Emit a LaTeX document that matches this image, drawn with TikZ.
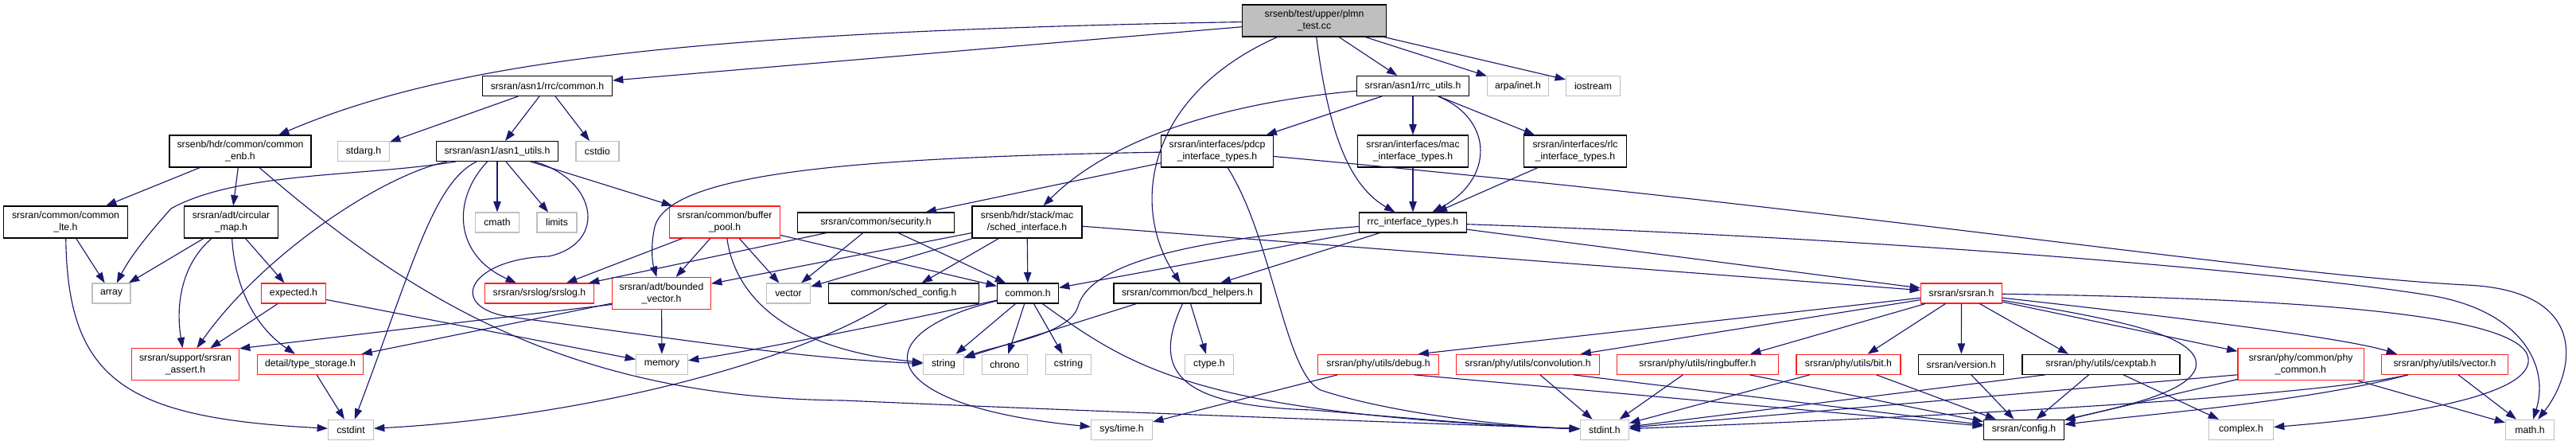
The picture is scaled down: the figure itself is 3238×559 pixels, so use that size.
\documentclass[tikz,border=0pt]{standalone}
\usepackage{fontspec}
\setmainfont{Liberation Sans}
\usetikzlibrary{arrows.meta}

\definecolor{edgeblue}{HTML}{191970}
\definecolor{sysgray}{HTML}{BFBFBF}
\definecolor{cutred}{HTML}{FF2020}

\begin{document}
\begin{tikzpicture}[x=0.75pt, y=-0.75pt,
    every node/.style={font=\fontsize{9.2}{11.25}\selectfont, align=center, inner sep=0pt,
        line width=0.8pt, fill=white, minimum height=25*0.75pt},
    file/.style={draw=black},
    sysfile/.style={draw=sysgray},
    cutfile/.style={draw=cutred},
    mainfile/.style={draw=black, fill=sysgray},
    tall/.style={minimum height=40*0.75pt},
    wd/.style={minimum width=#1*0.75pt},
    inc/.style={draw=edgeblue, line width=0.85pt, -{Triangle[length=10pt, width=7pt]}}]
    \useasboundingbox (0,0) rectangle (3238,559);

    % files, row by row
    \node[mainfile, tall, wd=181] (plmn) at (1652,26) {srsenb/test/upper/plmn\\\_test.cc};

    \node[file, wd=163] (rrcc) at (688,108) {srsran/asn1/rrc/common.h};
    \node[file, wd=141] (rrcu) at (1776,108) {srsran/asn1/rrc\_utils.h};
    \node[sysfile, wd=77] (arpa) at (1908,108) {arpa/inet.h};
    \node[sysfile, wd=68] (iostream) at (2002.5,108) {iostream};

    \node[file, tall, wd=178] (enb) at (302,190) {srsenb/hdr/common/common\\\_enb.h};
    \node[sysfile, wd=65] (stdarg) at (457,190) {stdarg.h};
    \node[file, wd=153] (asn) at (625,190) {srsran/asn1/asn1\_utils.h};
    \node[sysfile, wd=54] (cstdio) at (751,190) {cstdio};
    \node[file, tall, wd=141] (pdcp) at (1530,190) {srsran/interfaces/pdcp\\\_interface\_types.h};
    \node[file, tall, wd=139] (macif) at (1776,190) {srsran/interfaces/mac\\\_interface\_types.h};
    \node[file, tall, wd=129] (rlcif) at (1980,190) {srsran/interfaces/rlc\\\_interface\_types.h};

    \node[file, tall, wd=156] (lte) at (82.5,279) {srsran/common/common\\\_lte.h};
    \node[file, tall, wd=118] (cmap) at (290.5,279) {srsran/adt/circular\\\_map.h};
    \node[sysfile, wd=55] (cmath) at (625,279.5) {cmath};
    \node[sysfile, wd=50] (limits) at (700,279.5) {limits};
    \node[cutfile, tall, wd=139] (bpool) at (911,279) {srsran/common/buffer\\\_pool.h};
    \node[file, wd=197] (secu) at (1101,279.5) {srsran/common/security.h};
    \node[file, tall, wd=138] (sched) at (1291,279) {srsenb/hdr/stack/mac\\/sched\_interface.h};
    \node[file, wd=135] (rrcif) at (1776,279.5) {rrc\_interface\_types.h};

    \node[sysfile, wd=48] (array) at (140,368.5) {array};
    \node[cutfile, wd=81] (expected) at (369,368.5) {expected.h};
    \node[cutfile, wd=137] (srslog) at (678,368.5) {srsran/srslog/srslog.h};
    \node[cutfile, tall, wd=124] (bvec) at (831.5,368.5) {srsran/adt/bounded\\\_vector.h};
    \node[sysfile, wd=55] (vector) at (991,368.5) {vector};
    \node[file, wd=189] (schedcfg) at (1136,368.5) {common/sched\_config.h};
    \node[file, wd=77] (commonh) at (1292,368.5) {common.h};
    \node[file, wd=185] (bcd) at (1492.5,368.5) {srsran/common/bcd\_helpers.h};
    \node[cutfile, wd=102] (srsran) at (2465.5,368.5) {srsran/srsran.h};

    \node[cutfile, tall, wd=135] (assert) at (233,457.8) {srsran/support/srsran\\\_assert.h};
    \node[cutfile, wd=133] (tstore) at (390,457.8) {detail/type\_storage.h};
    \node[sysfile, wd=65] (memory) at (832,457.8) {memory};
    \node[sysfile, wd=51] (string) at (1186,457.8) {string};
    \node[sysfile, wd=57] (chrono) at (1263,457.8) {chrono};
    \node[sysfile, wd=57] (cstring) at (1343,457.8) {cstring};
    \node[sysfile, wd=61] (ctype) at (1520,457.8) {ctype.h};
    \node[cutfile, wd=152] (debug) at (1732.5,457.8) {srsran/phy/utils/debug.h};
    \node[cutfile, wd=180] (conv) at (1920.5,457.8) {srsran/phy/utils/convolution.h};
    \node[cutfile, wd=203] (ring) at (2134,457.8) {srsran/phy/utils/ringbuffer.h};
    \node[cutfile, wd=131] (bit) at (2323.5,457.8) {srsran/phy/utils/bit.h};
    \node[file, wd=107] (version) at (2465.3,457.8) {srsran/version.h};
    \node[file, wd=198] (cexp) at (2641,457.8) {srsran/phy/utils/cexptab.h};
    \node[cutfile, tall, wd=158] (phycom) at (2892,457.8) {srsran/phy/common/phy\\\_common.h};
    \node[cutfile, wd=159] (vecth) at (3073,457.8) {srsran/phy/utils/vector.h};

    \node[sysfile, wd=57] (cstdint) at (441,539.7) {cstdint};
    \node[sysfile, wd=77] (systime) at (1410,539.8) {sys/time.h};
    \node[sysfile, wd=61] (stdint) at (2017,539.8) {stdint.h};
    \node[file, wd=101] (config) at (2544,539.8) {srsran/config.h};
    \node[sysfile, wd=81] (complex) at (2817,539.8) {complex.h};
    \node[sysfile, wd=61] (math) at (3180,539.8) {math.h};

    % includes of the test file
    \draw[inc] (plmn) .. controls (850,40) and (560,80) .. (enb);
    \draw[inc] (plmn) -- (rrcc);
    \draw[inc] (plmn) -- (rrcu);
    \draw[inc] (plmn) -- (arpa);
    \draw[inc] (plmn) -- (iostream);
    \draw[inc] (plmn) .. controls (1668,150) and (1690,230) .. (rrcif);
    \draw[inc] (plmn) .. controls (1440,120) and (1420,260) .. (bcd);

    \draw[inc] (rrcc) -- (stdarg);
    \draw[inc] (rrcc) -- (asn);
    \draw[inc] (rrcc) -- (cstdio);

    \draw[inc] (enb) -- (lte);
    \draw[inc] (enb) -- (cmap);
    \draw[inc] (enb) .. controls (500,360) and (700,500) .. (1060,503) .. controls (1400,518) and (1800,532) .. (stdint);

    \draw[inc] (lte) -- (array);
    \draw[inc] (lte) .. controls (85,480) and (160,525) .. (cstdint);

    \draw[inc] (cmap) -- (array);
    \draw[inc] (cmap) .. controls (230,330) and (220,380) .. (assert);
    \draw[inc] (cmap) .. controls (295,360) and (320,410) .. (tstore);
    \draw[inc] (cmap) -- (expected);
    \draw[inc] (expected) -- (assert);
    \draw[inc] (expected) -- (memory);
    \draw[inc] (tstore) -- (cstdint);

    \draw[inc] (asn) -- (cmath);
    \draw[inc] (asn) -- (limits);
    \draw[inc] (asn) -- (bpool);
    \draw[inc] (asn) .. controls (568,250) and (570,320) .. (srslog);
    \draw[inc] (asn) .. controls (750,225) and (765,305) .. (690,322) .. controls (590,325) and (560,385) .. (640,398) .. controls (850,425) and (1000,450) .. (string);
    \draw[inc] ([shift={(25,0)}]asn.south west) .. controls (460,222) and (300,215) .. (215,262) .. controls (190,290) and (165,320) .. (array);
    \draw[inc] (asn) .. controls (480,220) and (330,320) .. (assert);
    \draw[inc] (asn) .. controls (545,230) and (520,330) .. (cstdint);

    \draw[inc] (bpool) -- (srslog);
    \draw[inc] (bpool) -- (bvec);
    \draw[inc] (bpool) -- (vector);
    \draw[inc] (bpool) -- (commonh);
    \draw[inc] (bpool) .. controls (925,380) and (1000,440) .. (string);

    \draw[inc] (bvec) -- (memory);
    \draw[inc] ([shift={(0,14)}]bvec.west) -- ([shift={(0,-20)}]assert.east);
    \draw[inc] (bvec) -- (tstore);

    \draw[inc] (rrcu) -- (pdcp);
    \draw[inc] (rrcu) -- (macif);
    \draw[inc] (rrcu) -- (rlcif);
    \draw[inc] (rrcu) .. controls (1878,150) and (1878,225) .. (rrcif);
    \draw[inc] (rrcu) .. controls (1550,128) and (1400,170) .. (sched);
    \draw[inc] (macif) -- (rrcif);
    \draw[inc] (rlcif) -- (rrcif);

    \draw[inc] (pdcp) -- (secu);
    \draw[inc] (pdcp) .. controls (1050,198) and (830,220) .. (822,290) .. controls (818,310) and (820,330) .. (bvec);
    \draw[inc] (pdcp) .. controls (1600,300) and (1615,470) .. (1660,490) .. controls (1750,520) and (1900,536) .. (stdint);
    \draw[inc] (pdcp) .. controls (2350,265) and (2850,345) .. (3100,358) .. controls (3260,365) and (3235,470) .. (math);

    \draw[inc] (secu) -- (srslog);
    \draw[inc] (secu) -- (vector);
    \draw[inc] (secu) -- (commonh);

    \draw[inc] (sched) -- (commonh);
    \draw[inc] (sched) -- (schedcfg);
    \draw[inc] (sched) -- (srsran);
    \draw[inc] (sched) -- (vector);
    \draw[inc] (sched) -- (bvec);
    \draw[inc] (schedcfg) .. controls (990,460) and (720,525) .. (cstdint);

    \draw[inc] (rrcif) -- (commonh);
    \draw[inc] (rrcif) .. controls (1500,300) and (1370,330) .. (1355,385) .. controls (1345,420) and (1260,432) .. (string);
    \draw[inc] (rrcif) -- (bcd);
    \draw[inc] (rrcif) -- (srsran);
    \draw[inc] (rrcif) .. controls (2400,300) and (2900,345) .. (3060,372) .. controls (3170,392) and (3205,460) .. (math);

    \draw[inc] (commonh) .. controls (1150,400) and (950,440) .. (memory);
    \draw[inc] (commonh) -- (string);
    \draw[inc] (commonh) -- (chrono);
    \draw[inc] (commonh) -- (cstring);
    \draw[inc] (commonh) .. controls (1080,420) and (1100,510) .. (systime);
    \draw[inc] (commonh) .. controls (1420,460) and (1500,520) .. (stdint);

    \draw[inc] ([shift={(-64,0)}]bcd.south) -- (string);
    \draw[inc] (bcd) -- (ctype);
    \draw[inc] (bcd) .. controls (1450,460) and (1470,510) .. (1650,515) .. controls (1800,528) and (1900,536) .. (stdint);

    % srsran.h and the phy headers
    \draw[inc] (srsran) -- ([shift={(50,0)}]debug.north);
    \draw[inc] (srsran) -- ([shift={(66,0)}]conv.north);
    \draw[inc] (srsran) -- ([shift={(66,0)}]ring.north);
    \draw[inc] (srsran) -- ([shift={(24,0)}]bit.north);
    \draw[inc] (srsran) -- (version);
    \draw[inc] (srsran) -- ([shift={(-41,0)}]cexp.north);
    \draw[inc] (srsran) -- (phycom);
    \draw[inc] (srsran) .. controls (2750,400) and (2950,425) .. ([shift={(-60,0)}]vecth.north);
    \draw[inc] (srsran) .. controls (2650,400) and (2770,420) .. (2760,462) .. controls (2750,495) and (2660,512) .. (config);
    \draw[inc] (srsran) .. controls (2900,375) and (3170,395) .. (3178,450) .. controls (3185,500) and (3000,525) .. (complex);

    \draw[inc] (debug) -- (systime);
    \draw[inc] ([shift={(45,0)}]debug.south) -- (config);
    \draw[inc] (conv) -- (stdint);
    \draw[inc] ([shift={(57,0)}]conv.south) -- (config);
    \draw[inc] (ring) -- (stdint);
    \draw[inc] (ring) -- (config);
    \draw[inc] (bit) -- (stdint);
    \draw[inc] (bit) -- (config);
    \draw[inc] (version) -- (config);
    \draw[inc] ([shift={(-70,0)}]cexp.south) -- (stdint);
    \draw[inc] (cexp) -- (config);
    \draw[inc] (cexp) -- (complex);
    \draw[inc] ([shift={(0,13)}]phycom.west) -- (stdint);
    \draw[inc] (phycom) -- (config);
    \draw[inc] (phycom) -- (math);
    \draw[inc] ([shift={(-46,0)}]vecth.south) .. controls (2900,500) and (2400,525) .. (stdint);
    \draw[inc] ([shift={(-46,0)}]vecth.south) .. controls (2900,505) and (2700,520) .. (config);
    \draw[inc] (vecth) -- (math);
\end{tikzpicture}
\end{document}
